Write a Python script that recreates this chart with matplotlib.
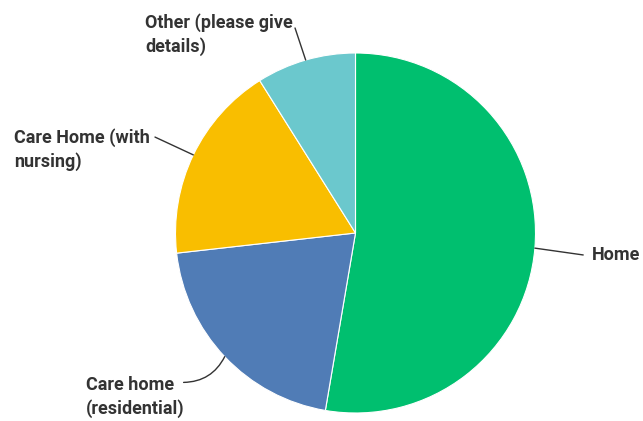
import numpy as np
import matplotlib
matplotlib.use("Agg")
import matplotlib.pyplot as plt

labels = ["Home", "Care home\n(residential)", "Care Home (with\nnursing)",
          "Other (please give\ndetails)"]
counts = [59, 23, 20, 10]
colors = ["#00BF6F", "#507CB6", "#F9BE00", "#6BC8CD"]

W, H = 643, 421
cx, cy, r = 355.5, 233.0, 180.0  # pie centre and radius in pixels

fig = plt.figure(figsize=(W / 100, H / 100), dpi=100)
ax = fig.add_axes([0, 0, 1, 1])

wedges, _ = ax.pie(counts, colors=colors, startangle=90, counterclock=False,
                   radius=1.0, center=(0, 0), frame=True,
                   wedgeprops=dict(linewidth=0.8, edgecolor="white"))
ax.set_xlim(-cx / r, (W - cx) / r)
ax.set_ylim(-(H - cy) / r, cy / r)
ax.set_aspect("equal")
ax.axis("off")

# label placement: (text x, text y, leader end x, leader end y, curve)
placement = [
    (1.314, -0.122, 1.265, -0.122, 0.0),
    (-1.497, -0.912, -0.955, -0.830, 0.3),
    (-1.897, 0.464, -1.114, 0.533, 0.0),
    (-1.169, 1.103, -0.336, 1.139, 0.0),
]

font = dict(family=["Roboto", "DejaVu Sans"], fontsize=13.0,
            fontweight="bold", color="#333333")

for w, lab, (tx, ty, lx, ly, rad) in zip(wedges, labels, placement):
    mid = np.deg2rad((w.theta1 + w.theta2) / 2)
    px, py = np.cos(mid), np.sin(mid)
    ax.annotate("", xy=(px, py), xytext=(lx, ly),
                arrowprops=dict(arrowstyle="-", color="#333333", lw=1.0,
                                shrinkA=0, shrinkB=0,
                                connectionstyle=f"arc3,rad={rad}"))
    ax.text(tx, ty, lab, ha="left", va="center", linespacing=1.35, **font)

fig.savefig("out.png", dpi=100)
